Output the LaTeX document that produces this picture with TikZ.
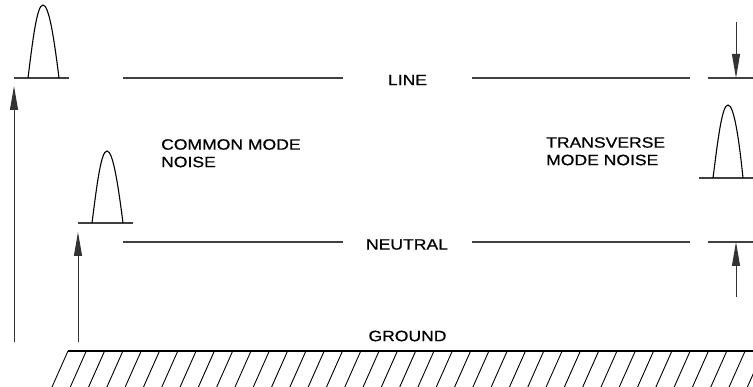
\documentclass[tikz,border=0pt]{standalone}
\usepackage{fontspec}
\setmainfont{Liberation Sans}[FakeStretch=1.17,FakeBold=0.6]
\usetikzlibrary{arrows.meta}
\begin{document}
\begin{tikzpicture}[x=1pt,y=-1pt,
  wire/.style={line width=1.1pt,draw=black!75},
  pulse/.style={line width=1.1pt,draw=black},
  arr/.style={line width=1pt,draw=black!80,-{Triangle[length=24pt,width=8pt]}},
  lbl/.style={font=\fontsize{15}{17.5}\selectfont,inner sep=0pt,align=left},
  hatch/.style={line width=0.9pt,draw=black}]
\useasboundingbox (0,0) rectangle (753,387);
% line level
\coordinate (la1) at (14,78); \coordinate (la2) at (69,78);
\coordinate (lb1) at (123,78); \coordinate (lb2) at (343,78);
\coordinate (lc1) at (472,78); \coordinate (lc2) at (690,78);
\coordinate (ld1) at (708,78); \coordinate (ld2) at (753,78);
\draw[wire] (la1)--(la2); \draw[wire] (lb1)--(lb2); \draw[wire] (lc1)--(lc2); \draw[wire] (ld1)--(ld2);
% neutral level
\coordinate (na1) at (78,223); \coordinate (na2) at (133,223);
\coordinate (nb1) at (123,242); \coordinate (nb2) at (343,242);
\coordinate (nc1) at (472,242); \coordinate (nc2) at (690,242);
\coordinate (nd1) at (708,242); \coordinate (nd2) at (753,242);
\draw[wire] (na1)--(na2); \draw[wire] (nb1)--(nb2); \draw[wire] (nc1)--(nc2); \draw[wire] (nd1)--(nd2);
% transverse base
\coordinate (t1) at (699,178); \coordinate (t2) at (753,178);
\draw[wire] (t1)--(t2);
% pulses
\draw[pulse] (28,78) .. controls (33,38) and (37,5) .. (43,5) .. controls (49,5) and (54,38) .. (59,78);
\draw[pulse] (92,223) .. controls (97,184) and (101,151) .. (107,151) .. controls (113,151) and (118,184) .. (123,223);
\draw[pulse] (713,178) .. controls (718,139) and (722,105) .. (728,105) .. controls (734,105) and (739,139) .. (743,178);
% arrows
\coordinate (a1s) at (14,342); \coordinate (a1e) at (14,86);
\coordinate (a2s) at (78,342); \coordinate (a2e) at (78,232);
\coordinate (a3s) at (736,22); \coordinate (a3e) at (736,78);
\coordinate (a4s) at (736,297); \coordinate (a4e) at (736,242);
\draw[arr] (a1s)--(a1e);
\draw[arr] (a2s)--(a2e);
\draw[arr] (a3s)--(a3e);
\draw[arr] (a4s)--(a4e);
% ground
\coordinate (g1) at (68,351); \coordinate (g2) at (753,351);
\draw[line width=1.1pt] (g1)--(g2);
\begin{scope}
\clip (0,0) rectangle (753,387);
\foreach \i in {0,...,38} {
  \draw[hatch] ({68+18.3*\i},351) -- ({52+18.3*\i},387);
}
\end{scope}
% labels
\node[lbl] (line) at (407.5,80) {LINE};
\node[lbl] (neutral) at (407,244.5) {NEUTRAL};
\node[lbl] (ground) at (407.5,336) {GROUND};
\node[lbl,anchor=north west] (cm) at (161,139) {COMMON MODE\\NOISE};
\node[lbl,anchor=north west] (tm) at (546,137) {TRANSVERSE\\MODE NOISE};
\end{tikzpicture}
\end{document}
